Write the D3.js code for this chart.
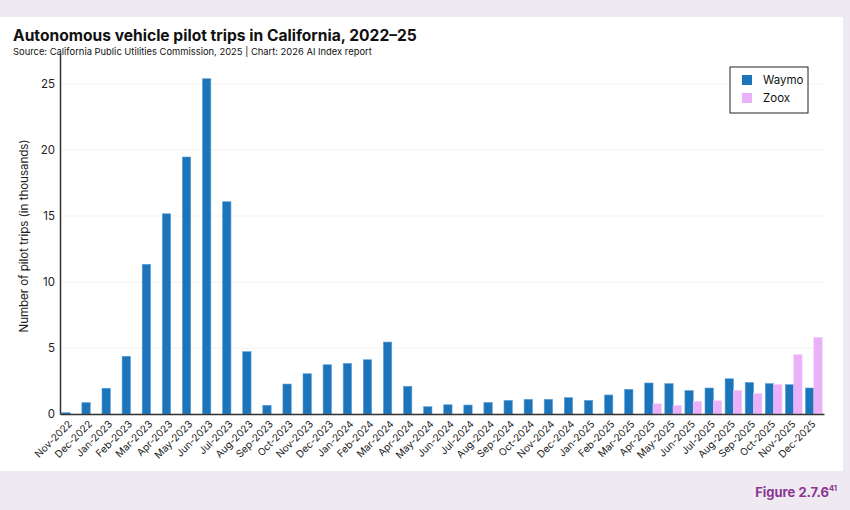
<!DOCTYPE html>
<html>
<head>
<meta charset="utf-8">
<script src="https://cdn.jsdelivr.net/npm/d3@7"></script>
<style>
  html, body { margin: 0; padding: 0; background: #efe9f2; }
  svg { display: block; font-family: Inter, "Open Sans", sans-serif; }
</style>
</head>
<body>
<div id="chart"></div>
<script>
// months, Nov 2022 .. Dec 2025
const months = ['Nov-2022','Dec-2022','Jan-2023','Feb-2023','Mar-2023','Apr-2023','May-2023','Jun-2023','Jul-2023','Aug-2023','Sep-2023','Oct-2023','Nov-2023','Dec-2023','Jan-2024','Feb-2024','Mar-2024','Apr-2024','May-2024','Jun-2024','Jul-2024','Aug-2024','Sep-2024','Oct-2024','Nov-2024','Dec-2024','Jan-2025','Feb-2025','Mar-2025','Apr-2025','May-2025','Jun-2025','Jul-2025','Aug-2025','Sep-2025','Oct-2025','Nov-2025','Dec-2025']
// trips in thousands
const waymo = [0.1,0.86,1.95,4.37,11.34,15.17,19.47,25.4,16.08,4.72,0.66,2.27,3.05,3.73,3.83,4.11,5.45,2.1,0.55,0.7,0.68,0.88,1.03,1.11,1.11,1.24,1.03,1.44,1.87,2.35,2.3,1.77,1.97,2.67,2.39,2.3,2.22,1.97]
const zoox = [null,null,null,null,null,null,null,null,null,null,null,null,null,null,null,null,null,null,null,null,null,null,null,null,null,null,null,null,null,0.77,0.65,0.95,1.0,1.79,1.54,2.22,4.49,5.79]
const yTicks = [0,5,10,15,20,25]
const seriesNames = ['Waymo','Zoox']
const colors = {Waymo:'#1c75ba', Zoox:'#eab0fa'}

const width = 850, height = 510
const svg = d3.select('#chart').append('svg')
  .attr('width', width).attr('height', height)

// white panel
svg.append('rect').attr('x',0).attr('y',17).attr('width',843).attr('height',454).attr('fill','#fff')

svg.append('text')
  .text('Autonomous vehicle pilot trips in California, 2022\u201325')
  .attr('x',13).attr('y',41)
  .attr('font-size',15.6).attr('font-weight',700).attr('fill','#111')
svg.append('text')
  .text('Source: California Public Utilities Commission, 2025 | Chart: 2026 AI Index report')
  .attr('x',13).attr('y',55)
  .attr('font-size',9.4).attr('fill','#111')

svg.append('text')
  .text('Figure 2.7.6')
  .attr('x',837).attr('y',497).attr('text-anchor','end')
  .attr('font-size',13).attr('font-weight',700).attr('fill','#8b3593')
  .append('tspan').text('41').attr('font-size',7.5).attr('dy',-6)

const left = 60, right = 824, bottom = 414
const x = d3.scaleBand().domain(months).range([left,right]).paddingInner(0.17).paddingOuter(0.09)
const x1 = d3.scaleBand().domain(seriesNames).range([0,x.bandwidth()])
const y = d3.scaleLinear().domain([0,27.35]).range([bottom,53])

// grid
svg.append('g').selectAll('line').data(yTicks).join('line')
  .attr('x1',left).attr('x2',right)
  .attr('y1',d=>y(d)).attr('y2',d=>y(d))
  .attr('stroke','#f2f2f2').attr('stroke-width',1)

const rows = months.map((m,i)=>({m, Waymo:waymo[i], Zoox:zoox[i]}))
seriesNames.forEach(s=>{
  svg.append('g').selectAll('rect')
    .data(rows.filter(d=>d[s]!=null))
    .join('rect')
    .attr('x',d=>x(d.m)+x1(s))
    .attr('y',d=>y(d[s]))
    .attr('width',x1.bandwidth())
    .attr('height',d=>bottom-y(d[s]))
    .attr('fill',colors[s])
    .attr('stroke',s=='Waymo'?'#5a9fd6':'#f1c8fb').attr('stroke-width',0.6)
})

const yAxis = svg.append('g')
  .attr('transform',`translate(${left},0)`)
  .call(d3.axisLeft(y).tickValues(yTicks).tickSize(0).tickPadding(5))
yAxis.select('.domain').attr('stroke','#333').attr('stroke-width',1.5)
yAxis.selectAll('text').attr('font-size',11.5).attr('fill','#222').attr('font-family','Inter, sans-serif')

const xAxis = svg.append('g')
  .attr('transform',`translate(0,${bottom})`)
  .call(d3.axisBottom(x).tickSize(0).tickSizeOuter(0))
xAxis.select('.domain').attr('stroke','#333').attr('stroke-width',1.5)
xAxis.selectAll('text')
  .attr('font-size',10).attr('fill','#222').attr('font-family','Inter, sans-serif')
  .attr('text-anchor','end')
  .attr('transform','translate(0,4) rotate(-45)')
  .attr('dy','0.35em').attr('dx','-0.3em')

svg.append('text')
  .text('Number of pilot trips (in thousands)')
  .attr('transform','translate(28,236) rotate(-90)')
  .attr('text-anchor','middle')
  .attr('font-size',11.5).attr('fill','#222')

// legend
const lg = svg.append('g').attr('transform','translate(730,67)')
lg.append('rect').attr('width',78).attr('height',46).attr('fill','#fff').attr('stroke','#222').attr('stroke-width',1)
seriesNames.forEach((s,i)=>{
  lg.append('rect').attr('x',12).attr('y',8+i*18).attr('width',10).attr('height',10).attr('fill',colors[s])
  lg.append('text').text(s).attr('x',33).attr('y',17+i*18).attr('font-size',11.5).attr('fill','#111')
})
</script>
</body>
</html>
